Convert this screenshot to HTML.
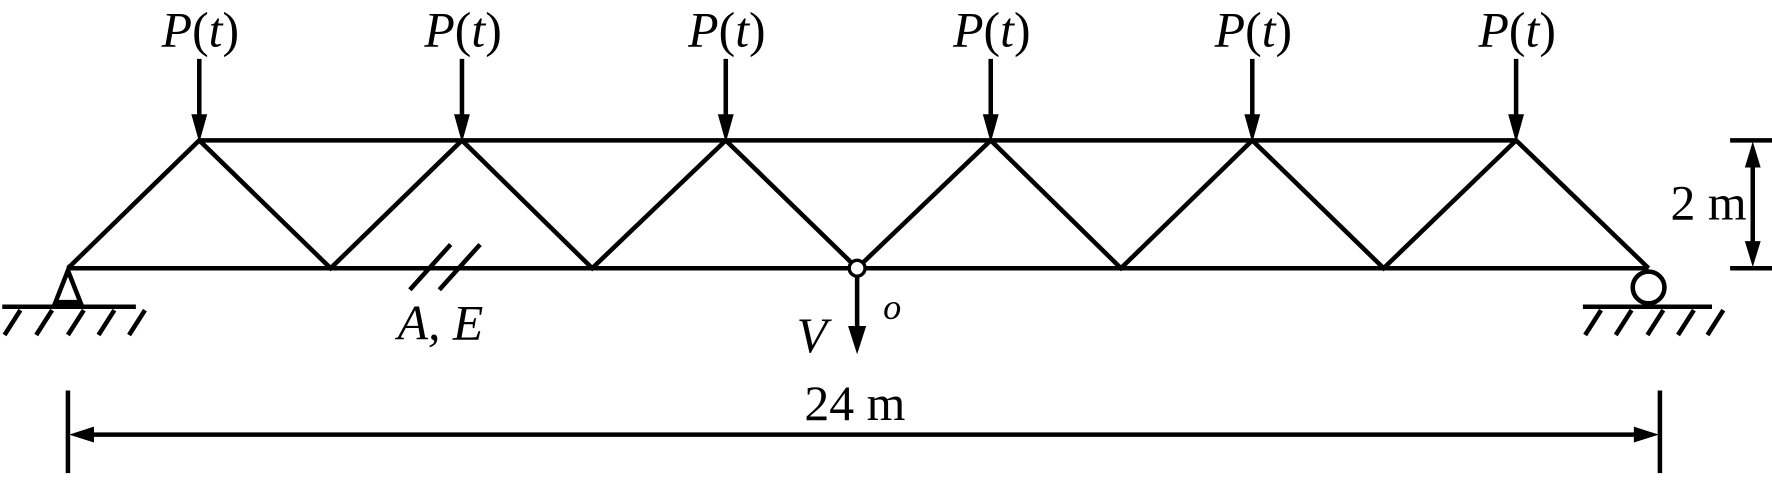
<!DOCTYPE html>
<html><head><meta charset="utf-8"><style>html,body{margin:0;padding:0;background:#fff;}svg{display:block}</style></head>
<body>
<svg width="1772" height="481" viewBox="0 0 1565 425" preserveAspectRatio="none" xmlns="http://www.w3.org/2000/svg">
<g stroke="#000" stroke-width="4" fill="none" stroke-linecap="butt">
<line x1="176" y1="124" x2="1339" y2="124"/>
<line x1="60" y1="237" x2="1456" y2="237"/>
<polyline points="60,237 176,124 292,237 408,124 523,237 641,124 757,237 875,124 990,237 1106,124 1222,237 1339,124 1456,237"/>
<line x1="176" y1="52" x2="176" y2="104"/>
<line x1="408" y1="52" x2="408" y2="104"/>
<line x1="641" y1="52" x2="641" y2="104"/>
<line x1="875" y1="52" x2="875" y2="104"/>
<line x1="1106" y1="52" x2="1106" y2="104"/>
<line x1="1339" y1="52" x2="1339" y2="104"/>
<polygon points="60,239 49,267 71,267"/>
<line x1="2" y1="271" x2="120" y2="271"/>
<line x1="18" y1="274" x2="4" y2="296"/>
<line x1="46" y1="274" x2="32" y2="296"/>
<line x1="74" y1="274" x2="60" y2="296"/>
<line x1="101" y1="274" x2="87" y2="296"/>
<line x1="128" y1="274" x2="114" y2="296"/>
<circle cx="1456" cy="254" r="14"/>
<line x1="1398" y1="271" x2="1512" y2="271"/>
<line x1="1414" y1="274" x2="1400" y2="296"/>
<line x1="1441" y1="274" x2="1427" y2="296"/>
<line x1="1469" y1="274" x2="1455" y2="296"/>
<line x1="1496" y1="274" x2="1482" y2="296"/>
<line x1="1522" y1="274" x2="1508" y2="296"/>
<line x1="362" y1="256" x2="398" y2="216"/>
<line x1="388" y1="256" x2="424" y2="216"/>
<line x1="757" y1="244" x2="757" y2="292"/>
<line x1="1528" y1="124" x2="1568" y2="124"/>
<line x1="1528" y1="237" x2="1568" y2="237"/>
<line x1="1548" y1="146" x2="1548" y2="215"/>
<line x1="60" y1="345" x2="60" y2="418"/>
<line x1="1466" y1="345" x2="1466" y2="418"/>
<line x1="80" y1="384" x2="1446" y2="384"/>
</g>
<g fill="#000">
<polygon points="169,101 183,101 176,126"/>
<polygon points="401,101 415,101 408,126"/>
<polygon points="634,101 648,101 641,126"/>
<polygon points="868,101 882,101 875,126"/>
<polygon points="1099,101 1113,101 1106,126"/>
<polygon points="1332,101 1346,101 1339,126"/>
<polygon points="749,288 765,288 757,313"/>
<polygon points="1541,148 1555,148 1548,125"/>
<polygon points="1541,213 1555,213 1548,236"/>
<polygon points="83,377 83,391 61,384"/>
<polygon points="1443,377 1443,391 1465,384"/>
</g>
<circle cx="757" cy="237" r="7" fill="#fff" stroke="#000" stroke-width="3"/>
<g font-family="Liberation Serif, serif" font-size="44" fill="#000" text-anchor="middle">
<text x="177" y="41"><tspan font-style="italic">P</tspan>(<tspan font-style="italic">t</tspan>)</text>
<text x="409" y="41"><tspan font-style="italic">P</tspan>(<tspan font-style="italic">t</tspan>)</text>
<text x="642" y="41"><tspan font-style="italic">P</tspan>(<tspan font-style="italic">t</tspan>)</text>
<text x="876" y="41"><tspan font-style="italic">P</tspan>(<tspan font-style="italic">t</tspan>)</text>
<text x="1107" y="41"><tspan font-style="italic">P</tspan>(<tspan font-style="italic">t</tspan>)</text>
<text x="1340" y="41"><tspan font-style="italic">P</tspan>(<tspan font-style="italic">t</tspan>)</text>
<text x="1509" y="194">2 m</text>
<text x="755" y="371">24 m</text>
<text x="389" y="300" font-style="italic">A, E</text>
<text x="717" y="311" font-style="italic">V</text>
<text x="788" y="282" font-style="italic" font-size="32">o</text>
</g>
</svg>
</body></html>
